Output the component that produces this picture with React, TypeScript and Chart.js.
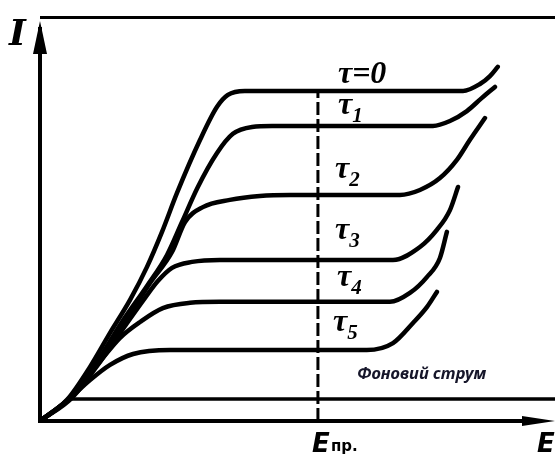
import React, { useEffect, useRef } from "react";
import { Chart, registerables } from "chart.js";

Chart.register(...registerables);

// Field strength E (arbitrary units) and current I for each decay time τ
const tau0E = [0, 0.97, 1.8, 2.52, 3.24, 3.85, 4.39, 4.93, 5.76, 6.37, 6.76, 7.37, 15.22, 15.83, 16.19, 16.47];
const tau0I = [0, 0.64, 1.64, 2.67, 3.67, 4.67, 5.73, 6.91, 8.52, 9.52, 9.88, 10.0, 10.0, 10.21, 10.45, 10.73];

const tau1E = [0, 1.08, 2.05, 2.95, 3.85, 4.57, 5.11, 5.68, 6.37, 6.94, 7.63, 8.35, 14.14, 14.75, 15.36, 15.9, 16.37];
const tau1I = [0, 0.7, 1.79, 3.0, 4.09, 5.03, 6.03, 7.09, 8.12, 8.7, 8.91, 8.94, 8.94, 9.09, 9.39, 9.79, 10.12];

const tau2E = [0, 1.08, 2.16, 3.06, 3.96, 4.75, 5.22, 5.86, 6.83, 7.91, 9.0, 12.95, 13.67, 14.39, 15.0, 15.47, 16.01];
const tau2I = [0, 0.7, 1.85, 3.0, 4.18, 5.12, 6.03, 6.48, 6.7, 6.82, 6.85, 6.85, 7.0, 7.36, 7.91, 8.52, 9.18];

const tau3E = [0, 1.15, 2.16, 3.06, 3.78, 4.24, 4.75, 5.47, 6.47, 12.7, 13.67, 14.28, 14.75, 15.04];
const tau3I = [0, 0.7, 1.79, 2.88, 3.73, 4.24, 4.64, 4.82, 4.88, 4.88, 5.27, 5.79, 6.39, 7.09];

const tau4E = [0, 1.08, 2.09, 2.88, 3.6, 4.42, 5.4, 6.47, 12.59, 13.31, 13.92, 14.39, 14.64];
const tau4I = [0, 0.7, 1.73, 2.52, 3.0, 3.42, 3.58, 3.61, 3.61, 3.88, 4.36, 4.94, 5.73];

const tau5E = [0, 1.01, 1.8, 2.52, 3.35, 4.68, 11.76, 12.7, 13.42, 13.92, 14.28];
const tau5I = [0, 0.64, 1.24, 1.7, 2.03, 2.15, 2.15, 2.36, 2.97, 3.45, 3.91];

// Background current level and its extent along E
const backgroundE = [1.08, 18.53];
const backgroundI = [0.67, 0.67];

// Breakdown field
const E_PR = 10;

const E_MAX = 18.53;
const I_MAX = 12.24;

const curveLabels = ["τ=0", "τ", "τ", "τ", "τ", "τ"];
const curveSubscripts = ["", "1", "2", "3", "4", "5"];
const plateauLevels = [10.0, 8.94, 6.85, 4.88, 3.61, 2.15];
const backgroundLabel = "Фоновий струм";
const yAxisTitle = "I";
const xAxisTitle = "E";
const breakdownMain = "E";
const breakdownSub = "пр.";

const zip = (xs: number[], ys: number[]) => xs.map((x, i) => ({ x, y: ys[i] }));

const curveStyle = {
  borderColor: "#000",
  borderWidth: 4.5,
  pointRadius: 0,
  fill: false,
  cubicInterpolationMode: "monotone" as const,
  borderCapStyle: "round" as const,
  borderJoinStyle: "round" as const,
};

// Label placement relative to the breakdown line and each plateau (px)
const labelDx = [20, 20, 17, 17, 19, 15];
const labelDy = [-8, -12, -17, -21, -16, -19];

const overlay = {
  id: "diagramOverlay",
  afterDatasetsDraw(chart: any) {
    const { ctx } = chart;
    const xs = chart.scales.x;
    const ys = chart.scales.y;
    const x0 = xs.getPixelForValue(0);
    const y0 = ys.getPixelForValue(0);
    const xR = xs.getPixelForValue(E_MAX);
    const yT = ys.getPixelForValue(I_MAX);

    ctx.save();
    ctx.strokeStyle = "#000";
    ctx.fillStyle = "#000";
    ctx.lineCap = "butt";

    // top frame line
    ctx.lineWidth = 3;
    ctx.beginPath();
    ctx.moveTo(x0, yT + 0.5);
    ctx.lineTo(xR, yT + 0.5);
    ctx.stroke();

    // I axis
    ctx.lineWidth = 4;
    ctx.beginPath();
    ctx.moveTo(x0, y0 + 2);
    ctx.lineTo(x0, yT + 10);
    ctx.stroke();
    ctx.beginPath();
    ctx.moveTo(x0, yT + 4);
    ctx.lineTo(x0 - 7, yT + 37);
    ctx.lineTo(x0 + 7, yT + 37);
    ctx.closePath();
    ctx.fill();

    // E axis
    ctx.beginPath();
    ctx.moveTo(x0 - 2, y0);
    ctx.lineTo(xR - 20, y0);
    ctx.stroke();
    ctx.beginPath();
    ctx.moveTo(xR, y0);
    ctx.lineTo(xR - 33, y0 - 5);
    ctx.lineTo(xR - 33, y0 + 5);
    ctx.closePath();
    ctx.fill();

    // axis titles
    ctx.textBaseline = "alphabetic";
    ctx.textAlign = "left";
    ctx.font = "bold italic 36px 'DejaVu Serif'";
    ctx.fillText(yAxisTitle, x0 - 31, yT + 28);

    ctx.font = "bold oblique 26px 'DejaVu Sans'";
    ctx.fillText(xAxisTitle, xR - 18, y0 + 31);

    const xE = xs.getPixelForValue(E_PR);
    ctx.fillText(breakdownMain, xE - 6, y0 + 31);
    ctx.font = "bold 15px 'DejaVu Sans'";
    ctx.fillText(breakdownSub, xE + 13, y0 + 30);

    // curve labels
    curveLabels.forEach((txt, i) => {
      const lx = xE + labelDx[i];
      const ly = ys.getPixelForValue(plateauLevels[i]) + labelDy[i];
      ctx.font = "bold italic 32px 'Liberation Serif'";
      ctx.fillText(txt, lx, ly);
      if (curveSubscripts[i]) {
        const w = ctx.measureText(txt).width;
        ctx.font = "bold italic 21px 'Liberation Serif'";
        ctx.fillText(curveSubscripts[i], lx + w, ly + 8);
      }
    });

    // background current caption
    ctx.fillStyle = "#16162a";
    ctx.font = "bold italic 16.5px 'Noto Sans'";
    ctx.fillText(backgroundLabel, xE + 39, ys.getPixelForValue(backgroundI[0]) - 20);

    ctx.restore();
  },
};

export default function App() {
  const canvasRef = useRef<HTMLCanvasElement | null>(null);

  useEffect(() => {
    if (!canvasRef.current) return;
    const chart = new Chart(canvasRef.current, {
      type: "line",
      data: {
        datasets: [
          { ...curveStyle, data: zip(tau0E, tau0I) },
          { ...curveStyle, data: zip(tau1E, tau1I) },
          { ...curveStyle, data: zip(tau2E, tau2I) },
          { ...curveStyle, data: zip(tau3E, tau3I) },
          { ...curveStyle, data: zip(tau4E, tau4I) },
          { ...curveStyle, data: zip(tau5E, tau5I) },
          {
            ...curveStyle,
            cubicInterpolationMode: "default" as const,
            tension: 0,
            borderWidth: 3.5,
            data: zip(backgroundE, backgroundI),
          },
          {
            ...curveStyle,
            cubicInterpolationMode: "default" as const,
            tension: 0,
            borderWidth: 3,
            borderCapStyle: "butt" as const,
            borderDash: [13, 4],
            data: [
              { x: E_PR, y: 0 },
              { x: E_PR, y: plateauLevels[0] },
            ],
          },
        ],
      },
      options: {
        animation: false,
        responsive: false,
        events: [],
        layout: { padding: { left: 40, top: 17, right: 0, bottom: 38 } },
        scales: {
          x: { type: "linear", min: 0, max: E_MAX, display: false },
          y: { type: "linear", min: 0, max: I_MAX, display: false },
        },
        plugins: {
          legend: { display: false },
          tooltip: { enabled: false },
        },
      },
      plugins: [overlay],
    });
    return () => chart.destroy();
  }, []);

  return (
    <div style={{ position: "absolute", left: 0, top: 0, width: 555, height: 459, background: "#fff" }}>
      <canvas ref={canvasRef} width={555} height={459} />
    </div>
  );
}
